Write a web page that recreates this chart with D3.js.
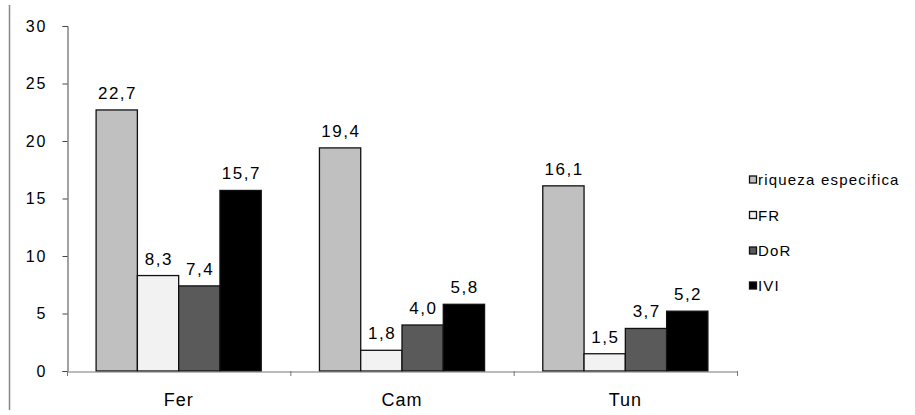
<!DOCTYPE html>
<html><head><meta charset="utf-8">
<script src="https://cdn.jsdelivr.net/npm/d3@7"></script>
<style>body{margin:0;background:#fff}svg{display:block;font-family:"Liberation Sans",Arial,sans-serif}</style>
</head><body><svg id="c" width="915" height="415"></svg>
<script>
const categories = ["Fer", "Cam", "Tun"];
const seriesNames = ["riqueza especifica", "FR", "DoR", "IVI"];
const riqueza = [22.7, 19.4, 16.1];
const FR = [8.3, 1.8, 1.5];
const DoR = [7.4, 4.0, 3.7];
const IVI = [15.7, 5.8, 5.2];
const yTicks = [0, 5, 10, 15, 20, 25, 30];
const colors = ["#c0c0c0", "#f2f2f2", "#5a5a5a", "#000000"];

const seriesVals = [riqueza, FR, DoR, IVI];
const svg = d3.select("#c");
const x0 = 67, x1 = 737, yTop = 26, yBot = 371;
const FF = "Liberation Sans, Arial, sans-serif";

// outer left border line
svg.append("line").attr("x1", 9.5).attr("x2", 9.5).attr("y1", 5).attr("y2", 410).attr("stroke", "#888").attr("stroke-width", 1.5);

const x = d3.scaleBand().domain(categories).range([x0, x1]).paddingInner(0).paddingOuter(0);
const xs = d3.scaleBand().domain(seriesNames).range([0, x.bandwidth()]).paddingInner(0).paddingOuter(0.705);
const y = d3.scaleLinear().domain([0, 30]).range([yBot, yTop]);

// y axis
const ya = svg.append("g").attr("transform", `translate(${x0 + 0.5},0)`)
  .call(d3.axisLeft(y).tickValues(yTicks).tickSize(5).tickPadding(15).tickFormat(d3.format("d")));
ya.select(".domain").attr("stroke", "#444");
ya.selectAll(".tick line").attr("stroke", "#444");
ya.selectAll("text").attr("font-size", 16).attr("letter-spacing", 2).attr("fill", "#000").attr("font-family", FF);

// bars
categories.forEach((c, ci) => {
  seriesNames.forEach((s, si) => {
    const v = seriesVals[si][ci];
    const bx = x(c) + xs(s);
    svg.append("rect").attr("x", bx).attr("y", y(v)).attr("width", xs.bandwidth()).attr("height", yBot - y(v))
      .attr("fill", colors[si]).attr("stroke", "#111").attr("stroke-width", 1.3);
    svg.append("text").attr("x", bx + xs.bandwidth() / 2 + 0.75).attr("y", y(v) - 11).attr("text-anchor", "middle")
      .attr("font-size", 17).attr("letter-spacing", 1.5).attr("fill", "#000").text(d3.format(".1f")(v).replace(".", ","));
  });
});

// x axis
const xa = svg.append("g").attr("transform", `translate(0,${yBot + 0.5})`)
  .call(d3.axisBottom(x).tickSize(0).tickPadding(22));
xa.select(".domain").attr("stroke", "#777");
xa.selectAll("text").attr("font-size", 18).attr("letter-spacing", 1).attr("fill", "#000").attr("font-family", FF);
const bounds = [x0, ...categories.map(c => x(c) + x.bandwidth())];
bounds.forEach(b => svg.append("line").attr("x1", b + 0.5).attr("x2", b + 0.5).attr("y1", yBot).attr("y2", yBot + 5).attr("stroke", "#777"));

// legend
const legY = [179.5, 215, 250.5, 285.5];
seriesNames.forEach((s, i) => {
  const g = svg.append("g").attr("transform", `translate(749,${legY[i]})`);
  g.append("rect").attr("x", 0.5).attr("y", -3.5).attr("width", 7).attr("height", 7).attr("fill", colors[i]).attr("stroke", "#111").attr("stroke-width", 1.3);
  g.append("text").attr("x", 9).attr("y", 5.5).attr("font-size", 15).attr("letter-spacing", 1.2).attr("fill", "#000").text(s);
});
</script></body></html>
